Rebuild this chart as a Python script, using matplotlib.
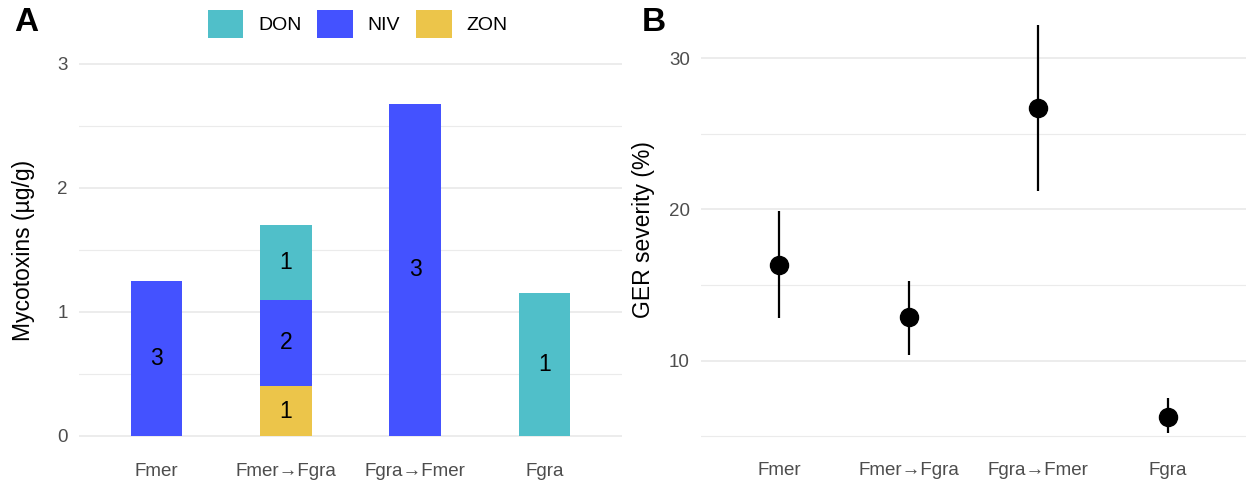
import matplotlib.pyplot as plt
import numpy as np
from matplotlib.patches import Patch
from matplotlib.ticker import MultipleLocator

plt.rcParams["font.family"] = ["Liberation Sans", "DejaVu Sans"]

# ── Data ─────────────────────────────────────────────────────────────────────
groups = ["Fmer", "Fmer\u2192Fgra", "Fgra\u2192Fmer", "Fgra"]

# Panel A: stacked mycotoxin amounts (µg/g), stacking order bottom → top
toxins = ["ZON", "NIV", "DON"]
toxin_vals = {
    "ZON": [0.0, 0.40, 0.0, 0.0],
    "NIV": [1.25, 0.70, 2.68, 0.0],
    "DON": [0.0, 0.60, 0.0, 1.15],
}
toxin_counts = {
    "ZON": [None, "1", None, None],
    "NIV": ["3", "2", "3", None],
    "DON": [None, "1", None, "1"],
}
toxin_colors = {"DON": "#50BFC9", "NIV": "#4452FF", "ZON": "#ECC54A"}
legend_order = ["DON", "NIV", "ZON"]

# Panel B: GER severity (%) mean with interval
ger_mean = [16.3, 12.9, 26.7, 6.3]
ger_low = [12.8, 10.4, 21.2, 5.2]
ger_high = [19.9, 15.3, 32.2, 7.5]

# ── Plot ─────────────────────────────────────────────────────────────────────
fig = plt.figure(figsize=(12.54, 4.88), dpi=100)
axA = fig.add_axes([0.063, 0.0685, 0.433, 0.8385])
axB = fig.add_axes([0.559, 0.0705, 0.4346, 0.92])

x = np.arange(1, len(groups) + 1)
tick_col = "#4D4D4D"
grid_col = "#EBEBEB"

# A) stacked bars
bottom = np.zeros(len(groups))
for t in toxins:
    vals = np.array(toxin_vals[t])
    axA.bar(x, vals, width=0.4, bottom=bottom, color=toxin_colors[t], zorder=2)
    for xi, b, v, lbl in zip(x, bottom, vals, toxin_counts[t]):
        if lbl is not None and v > 0:
            axA.text(xi, b + v / 2, lbl, ha="center", va="center",
                     fontsize=16.5, color="black", zorder=3)
    bottom += vals

axA.set_xlim(0.4, 4.6)
axA.set_ylim(-0.15, 3.15)
axA.yaxis.set_major_locator(MultipleLocator(1))
axA.yaxis.set_minor_locator(MultipleLocator(0.5))
axA.set_ylabel("Mycotoxins (\u00b5g/g)", fontsize=16.5, labelpad=16)

handles = [Patch(facecolor=toxin_colors[t], edgecolor="none") for t in legend_order]
axA.legend(handles, legend_order, loc="center", bbox_to_anchor=(0.285, 0.951),
           bbox_transform=fig.transFigure, ncol=3,
           frameon=False, fontsize=14, handlelength=1.85, handleheight=1.85,
           handletextpad=0.75, columnspacing=0.8, borderpad=0)

# B) point + interval
axB.vlines(x, ger_low, ger_high, color="black", lw=1.6, zorder=2)
axB.plot(x, ger_mean, "o", color="black", ms=13, zorder=3)
axB.set_xlim(0.4, 4.6)
lo, hi = min(ger_low), max(ger_high)
pad = 0.05 * (hi - lo)
axB.set_ylim(lo - pad, hi + pad)
axB.yaxis.set_major_locator(MultipleLocator(10))
axB.yaxis.set_minor_locator(MultipleLocator(5))
axB.set_ylabel("GER severity (%)", fontsize=16.5, labelpad=10)

for ax in (axA, axB):
    ax.set_xticks(x)
    ax.set_xticklabels(groups)
    for s in ax.spines.values():
        s.set_visible(False)
    ax.tick_params(axis="both", which="both", length=0, labelsize=13.5,
                   colors=tick_col, pad=8)
    ax.tick_params(axis="x", pad=6)
    ax.grid(axis="y", which="major", color=grid_col, lw=1.3, zorder=0)
    ax.grid(axis="y", which="minor", color=grid_col, lw=0.8, zorder=0)
    ax.grid(axis="x", visible=False)
    ax.set_axisbelow(True)

fig.text(0.011, 0.953, "A", fontsize=24, fontweight="bold", va="center")
fig.text(0.512, 0.953, "B", fontsize=24, fontweight="bold", va="center")

fig.savefig("out.png", dpi=100)
